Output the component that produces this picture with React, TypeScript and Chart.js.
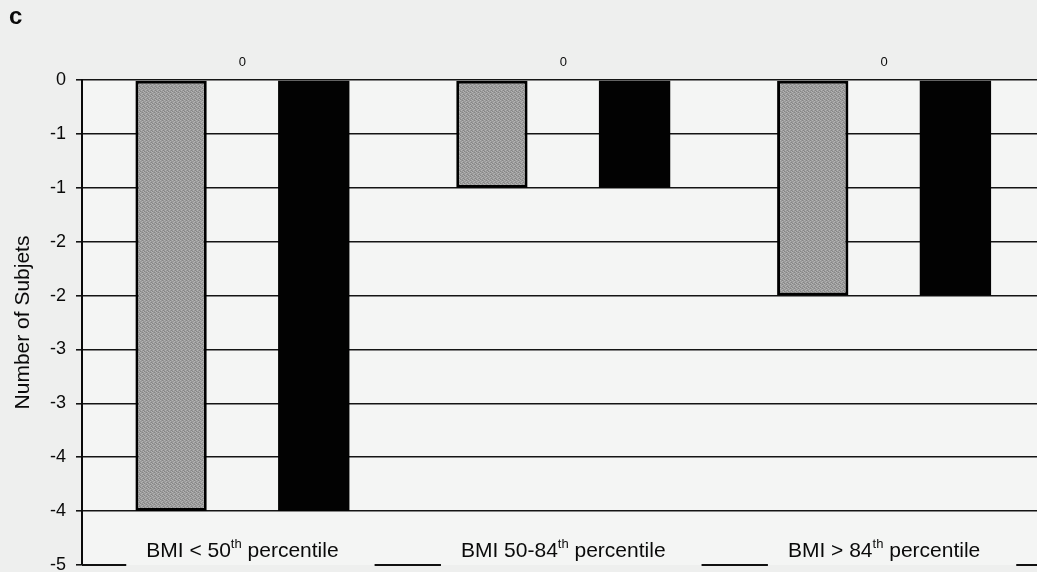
import { useEffect, useRef } from "react";
import { Chart, registerables } from "chart.js";

Chart.register(...registerables);

const categories = ["BMI < 50th percentile", "BMI 50-84th percentile", "BMI > 84th percentile"];
const seriesGray = [-4, -1, -2];
const seriesZero = [0, 0, 0];
const seriesBlack = [-4, -1, -2];
const yMin = -4.5;
const yMax = 0;
const yStep = 0.5;
const axisTitle = "Number of Subjets";
const panelLetter = "c";

const FONT = '"Liberation Sans", Arial, Helvetica, sans-serif';

function formatTick(v: number): string {
  const r = Math.sign(v) * Math.round(Math.abs(v));
  return r === 0 ? "0" : String(r);
}

function splitSup(label: string): { text: string; sup: boolean }[] {
  const parts: { text: string; sup: boolean }[] = [];
  const re = /(\d)(th)/g;
  let last = 0;
  let m: RegExpExecArray | null;
  while ((m = re.exec(label)) !== null) {
    const supStart = m.index + 1;
    parts.push({ text: label.slice(last, supStart), sup: false });
    parts.push({ text: "th", sup: true });
    last = supStart + 2;
  }
  parts.push({ text: label.slice(last), sup: false });
  return parts.filter((p) => p.text.length > 0);
}

function makePattern(): CanvasPattern | string {
  const c = document.createElement("canvas");
  c.width = 4;
  c.height = 4;
  const g = c.getContext("2d");
  if (!g) return "#a3a3a3";
  g.fillStyle = "#9a9a9a";
  g.fillRect(0, 0, 4, 4);
  g.fillStyle = "#b4b4b4";
  g.fillRect(0, 0, 1, 1);
  g.fillRect(2, 1, 1, 1);
  g.fillRect(1, 2, 1, 1);
  g.fillRect(3, 3, 1, 1);
  g.fillStyle = "#858585";
  g.fillRect(2, 0, 1, 1);
  g.fillRect(0, 3, 1, 1);
  g.fillRect(3, 2, 1, 1);
  return g.createPattern(c, "repeat") || "#a3a3a3";
}

const decorPlugin = {
  id: "decor",
  beforeDraw(chart: any) {
    const { ctx, chartArea: ca, width, height } = chart;
    ctx.save();
    ctx.fillStyle = "#eeefee";
    ctx.fillRect(0, 0, width, height);
    ctx.fillStyle = "#f4f5f4";
    ctx.fillRect(ca.left, ca.top, ca.right - ca.left, ca.bottom - ca.top);
    ctx.restore();
  },
  afterDraw(chart: any) {
    const ctx = chart.ctx as CanvasRenderingContext2D;
    const xs = chart.scales.x;
    const ys = chart.scales.y;
    ctx.save();
    ctx.fillStyle = "#0a0a0a";
    ctx.textBaseline = "alphabetic";

    // panel letter
    ctx.textAlign = "left";
    ctx.font = "bold 24px " + FONT;
    ctx.fillText(panelLetter, 9, 24);

    // data labels of the zero series
    const meta = chart.getDatasetMeta(1);
    ctx.textAlign = "center";
    ctx.font = "13px " + FONT;
    meta.data.forEach((el: any, i: number) => {
      ctx.fillText(String(seriesZero[i]), el.x, el.y - 14);
    });

    // category labels with superscripts
    const baseY = ys.getPixelForValue(yMin);
    const labelY = baseY - 8;
    const MAIN = "21px " + FONT;
    const SUP = "13px " + FONT;
    const gaps: [number, number][] = [];
    ctx.textAlign = "left";
    categories.forEach((label, i) => {
      const cx = xs.getPixelForValue(i);
      const parts = splitSup(label);
      const widths = parts.map((p) => {
        ctx.font = p.sup ? SUP : MAIN;
        return ctx.measureText(p.text).width;
      });
      const total = widths.reduce((a, b) => a + b, 0);
      let px = cx - total / 2;
      parts.forEach((p, k) => {
        ctx.font = p.sup ? SUP : MAIN;
        ctx.fillText(p.text, px, p.sup ? labelY - 9 : labelY);
        px += widths[k];
      });
      gaps.push([cx - total / 2 - 20, cx + total / 2 + 36]);
    });

    // bottom axis line, interrupted by the label boxes
    ctx.strokeStyle = "#111";
    ctx.lineWidth = 2;
    ctx.beginPath();
    let start = chart.chartArea.left;
    gaps.forEach(([a, b]) => {
      ctx.moveTo(start, baseY);
      ctx.lineTo(a, baseY);
      start = b;
    });
    ctx.moveTo(start, baseY);
    ctx.lineTo(chart.chartArea.right, baseY);
    ctx.stroke();
    ctx.restore();
  },
};

export default function App() {
  const ref = useRef<HTMLCanvasElement | null>(null);

  useEffect(() => {
    if (!ref.current) return;
    const pattern = makePattern();
    const chart = new Chart(ref.current, {
      type: "bar",
      data: {
        labels: categories,
        datasets: [
          {
            label: "gray",
            data: seriesGray,
            backgroundColor: pattern as any,
            borderColor: "#000",
            borderWidth: 3,
            borderSkipped: false,
            categoryPercentage: 0.667,
            barPercentage: 1,
          },
          {
            label: "zero",
            data: seriesZero,
            backgroundColor: "rgba(0,0,0,0)",
            borderWidth: 0,
            categoryPercentage: 0.667,
            barPercentage: 1,
          },
          {
            label: "black",
            data: seriesBlack,
            backgroundColor: "#020202",
            borderColor: "#000",
            borderWidth: 0,
            categoryPercentage: 0.667,
            barPercentage: 1,
          },
        ],
      },
      options: {
        responsive: false,
        animation: false,
        devicePixelRatio: 1,
        layout: { padding: { top: 80, left: 0, right: 1.5, bottom: 25 } },
        plugins: {
          legend: { display: false },
          tooltip: { enabled: false },
        },
        scales: {
          x: { display: false },
          y: {
            min: yMin,
            max: yMax,
            afterFit: (s: any) => {
              s.width = 82;
            },
            ticks: {
              stepSize: yStep,
              callback: (v: any) => formatTick(Number(v)),
              font: { size: 18, family: FONT },
              color: "#0a0a0a",
              padding: 10,
              autoSkip: false,
            },
            grid: {
              color: (c: any) => (c.tick && c.tick.value === yMin ? "rgba(0,0,0,0)" : "#141414"),
              lineWidth: 1.6,
              tickColor: "#141414",
              tickLength: 6,
              drawTicks: true,
            },
            border: { display: true, color: "#0a0a0a", width: 2 },
            title: {
              display: true,
              text: axisTitle,
              font: { size: 21, family: FONT },
              color: "#0a0a0a",
              padding: { top: 11, bottom: 0 },
            },
          },
        },
      },
      plugins: [decorPlugin],
    });
    return () => chart.destroy();
  }, []);

  return (
    <div
      style={{
        position: "fixed",
        left: 0,
        top: 0,
        width: 1037,
        height: 572,
        overflow: "hidden",
        background: "#eeefee",
      }}
    >
      <canvas ref={ref} width={1046} height={590} style={{ display: "block" }} />
    </div>
  );
}
